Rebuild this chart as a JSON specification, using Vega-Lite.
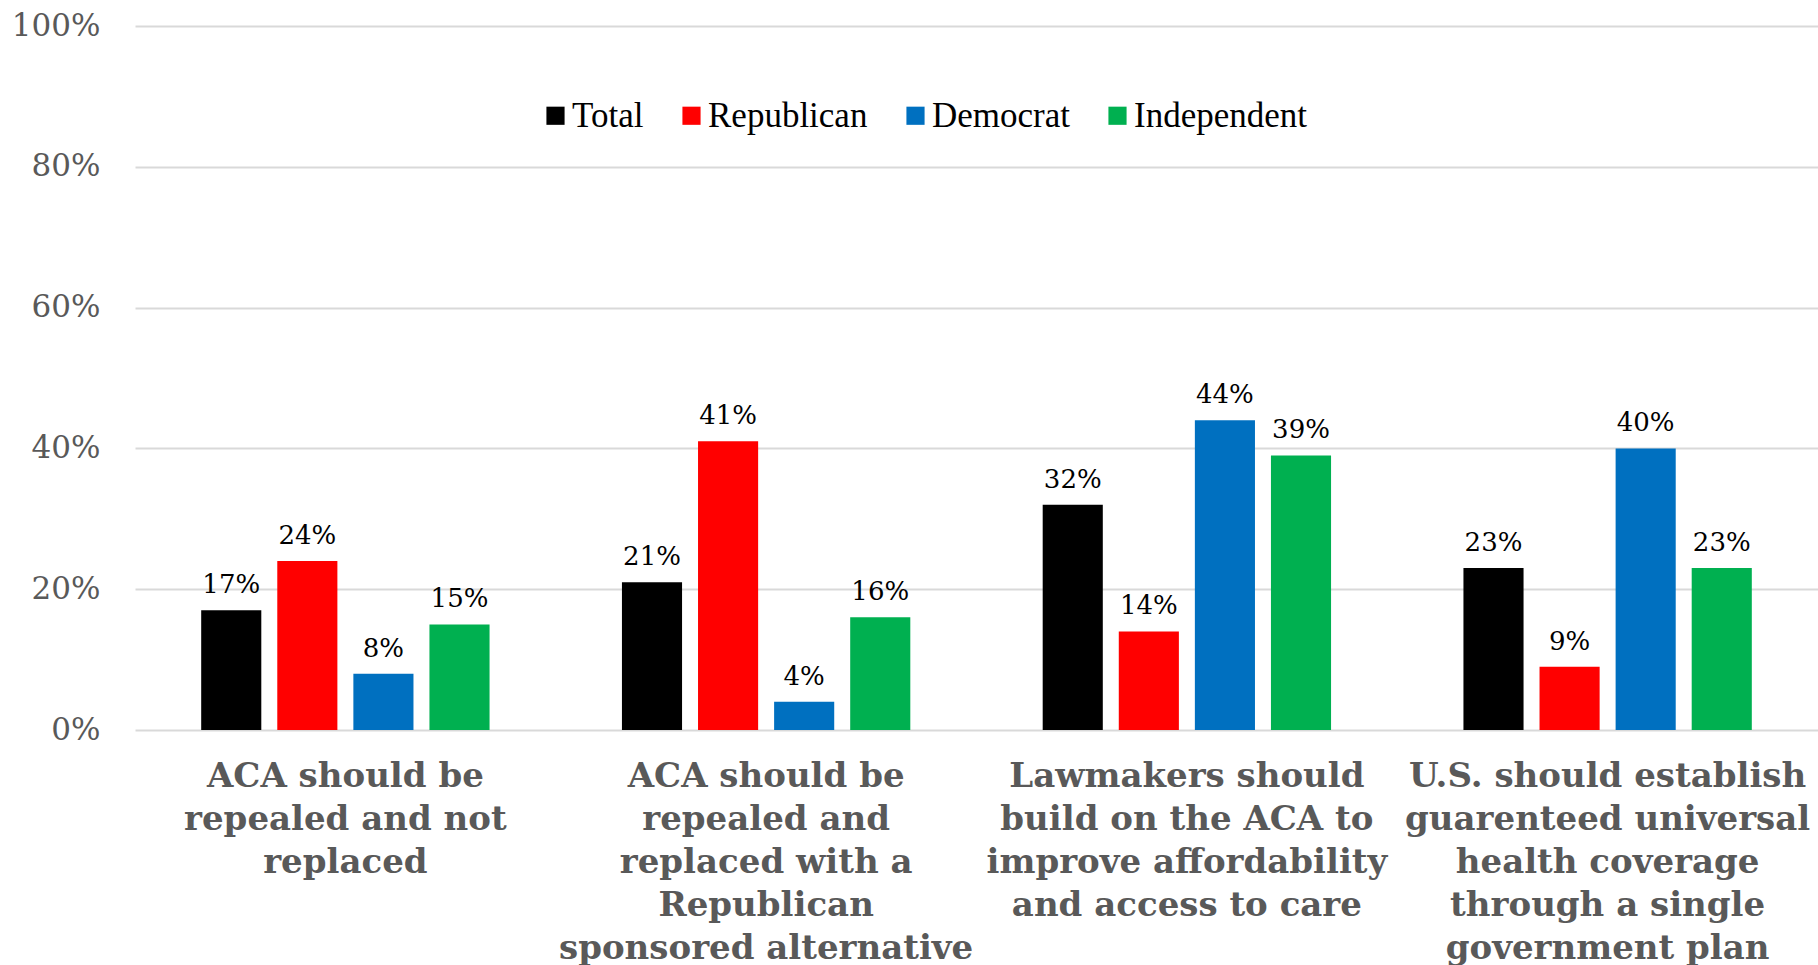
{
  "$schema": "https://vega.github.io/schema/vega-lite/v6.json",
  "width": 1683,
  "height": 704,
  "autosize": {"type": "none"},
  "padding": {"left": 135, "top": 26, "right": 0, "bottom": 235},
  "background": "white",
  "data": {
    "values": [
      {"cat": "ACA should be|repealed and not|replaced", "party": "Total", "value": 0.17},
      {"cat": "ACA should be|repealed and not|replaced", "party": "Republican", "value": 0.24},
      {"cat": "ACA should be|repealed and not|replaced", "party": "Democrat", "value": 0.08},
      {"cat": "ACA should be|repealed and not|replaced", "party": "Independent", "value": 0.15},
      {"cat": "ACA should be|repealed and|replaced with a|Republican|sponsored alternative", "party": "Total", "value": 0.21},
      {"cat": "ACA should be|repealed and|replaced with a|Republican|sponsored alternative", "party": "Republican", "value": 0.41},
      {"cat": "ACA should be|repealed and|replaced with a|Republican|sponsored alternative", "party": "Democrat", "value": 0.04},
      {"cat": "ACA should be|repealed and|replaced with a|Republican|sponsored alternative", "party": "Independent", "value": 0.16},
      {"cat": "Lawmakers should|build on the ACA to|improve affordability|and access to care", "party": "Total", "value": 0.32},
      {"cat": "Lawmakers should|build on the ACA to|improve affordability|and access to care", "party": "Republican", "value": 0.14},
      {"cat": "Lawmakers should|build on the ACA to|improve affordability|and access to care", "party": "Democrat", "value": 0.44},
      {"cat": "Lawmakers should|build on the ACA to|improve affordability|and access to care", "party": "Independent", "value": 0.39},
      {"cat": "U.S. should establish|guarenteed universal|health coverage|through a single|government plan", "party": "Total", "value": 0.23},
      {"cat": "U.S. should establish|guarenteed universal|health coverage|through a single|government plan", "party": "Republican", "value": 0.09},
      {"cat": "U.S. should establish|guarenteed universal|health coverage|through a single|government plan", "party": "Democrat", "value": 0.40},
      {"cat": "U.S. should establish|guarenteed universal|health coverage|through a single|government plan", "party": "Independent", "value": 0.23}
    ]
  },
  "config": {
    "view": {"stroke": null},
    "font": "DejaVu Serif"
  },
  "encoding": {
    "x": {
      "field": "cat",
      "type": "nominal",
      "sort": null,
      "scale": {"paddingInner": 0, "paddingOuter": 0},
      "axis": {
        "title": null,
        "labelAngle": 0,
        "labelExpr": "split(datum.label, '|')",
        "labelFont": "DejaVu Serif",
        "labelFontWeight": "bold",
        "labelFontSize": 34,
        "labelColor": "#595959",
        "labelLineHeight": 43,
        "labelPadding": 29,
        "labelLimit": 0,
        "labelOverlap": false,
        "labelBound": false,
        "ticks": false,
        "domain": false,
        "grid": false
      }
    },
    "xOffset": {
      "field": "party",
      "type": "nominal",
      "sort": ["Total", "Republican", "Democrat", "Independent"],
      "scale": {"paddingInner": 0.21, "paddingOuter": 0.87}
    },
    "y": {
      "field": "value",
      "type": "quantitative",
      "scale": {"domain": [0, 1], "nice": false},
      "axis": {
        "title": null,
        "format": ".0%",
        "values": [0, 0.2, 0.4, 0.6, 0.8, 1],
        "labelFont": "DejaVu Serif",
        "labelFontSize": 31,
        "labelColor": "#595959",
        "labelPadding": 35,
        "ticks": false,
        "domain": false,
        "grid": true,
        "gridColor": "#d9d9d9",
        "gridWidth": 2
      }
    }
  },
  "layer": [
    {
      "mark": {"type": "bar"},
      "encoding": {
        "color": {
          "field": "party",
          "type": "nominal",
          "sort": ["Total", "Republican", "Democrat", "Independent"],
          "scale": {
            "domain": ["Total", "Republican", "Democrat", "Independent"],
            "range": ["#000000", "#ff0000", "#0070c0", "#00b050"]
          },
          "legend": {
            "title": null,
            "orient": "none",
            "legendX": 403,
            "legendY": 72,
            "direction": "horizontal",
            "symbolType": "square",
            "symbolSize": 330,
            "symbolStrokeWidth": 0,
            "symbolOpacity": 1,
            "labelFont": "Liberation Serif",
            "labelFontSize": 35,
            "labelColor": "#000000",
            "labelOffset": -1,
            "columnPadding": 30,
            "labelLimit": 0
          }
        }
      }
    },
    {
      "mark": {"type": "text", "baseline": "alphabetic", "dy": -17, "fontSize": 26, "font": "DejaVu Serif", "color": "#000000"},
      "encoding": {
        "text": {"field": "value", "type": "quantitative", "format": ".0%"}
      }
    }
  ]
}
